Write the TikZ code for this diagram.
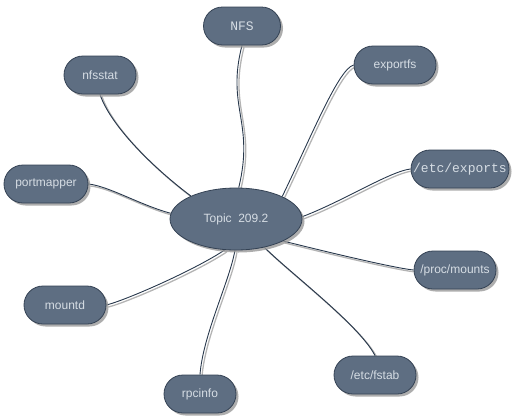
\documentclass[tikz,border=0pt]{standalone}
\usepackage{fontspec}
\setmainfont{Liberation Sans}
\setmonofont{Liberation Mono}
\usetikzlibrary{shapes.misc,shapes.geometric,shadows,backgrounds}
\definecolor{topicfill}{RGB}{94,110,130}
\definecolor{topicline}{RGB}{52,66,84}
\definecolor{topictext}{RGB}{214,221,228}
\definecolor{linkdark}{RGB}{40,56,76}
\definecolor{linkshade}{RGB}{180,180,180}
\tikzset{
  sub/.style={rounded rectangle, draw=topicline, line width=0.8pt, fill=topicfill,
    text=topictext, minimum height=38pt, inner xsep=4pt,
    font=\fontsize{12}{14}\selectfont,
    drop shadow={shadow xshift=2.5pt, shadow yshift=-2.5pt, fill=black!40, opacity=0.8}},
  mono/.style={font=\ttfamily\fontsize{13}{15}\selectfont},
  central/.style={ellipse, draw=topicline, line width=0.8pt, fill=topicfill,
    text=topictext, minimum width=132pt, minimum height=62pt,
    font=\fontsize{12}{14}\selectfont,
    drop shadow={shadow xshift=2.5pt, shadow yshift=-2.5pt, fill=black!40, opacity=0.8}},
  link/.style={draw=linkdark, line width=0.9pt,
    preaction={draw=linkshade, line width=1.3pt,
      transform canvas={shift={(2pt,-2pt)}}}}
}
\begin{document}
\begin{tikzpicture}[x=1pt,y=-1pt]
      \useasboundingbox (0,0) rectangle (525,418);
      \path
        (236,219) coordinate (c)
        (242,26) coordinate (p1)
        (395,65) coordinate (p2)
        (460,169) coordinate (p3)
        (455,270) coordinate (p4)
        (375,375) coordinate (p5)
        (200,394) coordinate (p6)
        (65,305) coordinate (p7)
        (46,184) coordinate (p8)
        (100,75) coordinate (p9);
      \node[central] (topic) at (c) {Topic\ \ 209.2};
      \node[sub,mono,minimum width=85pt] (nfs) at (p1) {NFS};
      \node[sub,minimum width=90pt] (exportfs) at (p2) {exportfs};
      \node[sub,mono,minimum width=100pt,inner xsep=1pt] (exports) at (p3) {/etc/exports};
      \node[sub,minimum width=90pt] (procmounts) at (p4) {/proc/mounts};
      \node[sub,minimum width=90pt] (fstab) at (p5) {/etc/fstab};
      \node[sub,minimum width=80pt] (rpcinfo) at (p6) {rpcinfo};
      \node[sub,minimum width=90pt] (mountd) at (p7) {mountd};
      \node[sub,minimum width=92pt] (portmapper) at (p8) {portmapper};
      \node[sub,minimum width=80pt] (nfsstat) at (p9) {nfsstat};
      % links go under the nodes
      \begin{scope}[on background layer]
        \draw[link] (nfs.south) .. controls +(-16,62) and +(16,-66) .. (topic.85);
        \draw[link] (exportfs.west) .. controls +(-15,4) and +(30,-62) .. (topic.26);
        \draw[link] (exports.west) .. controls +(-20,2) and +(40,-15) .. (topic.2);
        \draw[link] (procmounts.west) .. controls +(-20,-2) and +(40,10) .. (topic.-25);
        \draw[link] (fstab.north) .. controls +(-15,-30) and +(25,25) .. (topic.-45);
        \draw[link] (rpcinfo.north) .. controls +(3,-40) and +(-5,30) .. (topic.-92);
        \draw[link] (mountd.east) .. controls +(20,-5) and +(-30,20) .. (topic.-110);
        \draw[link] (portmapper.east) .. controls +(20,2) and +(-30,-8) .. (topic.175);
        \draw[link] (nfsstat.south) .. controls +(10,30) and +(-40,-30) .. (topic.153);
      \end{scope}
\end{tikzpicture}
\end{document}
